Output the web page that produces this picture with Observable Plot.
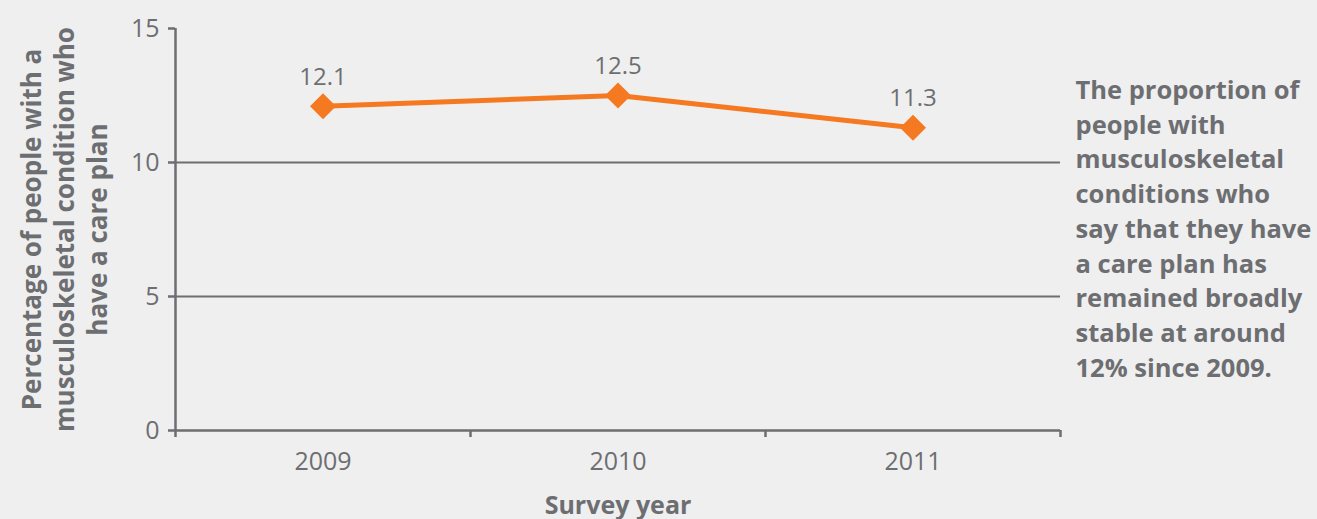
<!DOCTYPE html>
<html>
<head>
<meta charset="utf-8">
<script src="https://cdn.jsdelivr.net/npm/d3@7"></script>
<script src="https://cdn.jsdelivr.net/npm/@observablehq/plot@0.6"></script>
<style>
  html, body { margin: 0; padding: 0; background: #efefef; }
  #chart { position: relative; width: 1317px; height: 519px; }
  svg { font-family: "Open Sans", sans-serif; }
</style>
</head>
<body>
<div id="chart"></div>
<script>
const years = [2009, 2010, 2011];
const values = [12.1, 12.5, 11.3];
const yTicks = [0, 5, 10, 15];
const gridValues = [5, 10];
const yLabel = "Percentage of people with a\nmusculoskeletal condition who\nhave a care plan";
const xLabel = "Survey year";
const note = "The proportion of\npeople with\nmusculoskeletal\nconditions who\nsay that they have\na care plan has\nremained broadly\nstable at around\n12% since 2009.";

const data = years.map((y, i) => ({year: y, value: values[i]}));
const boundaries = [years[0] - 0.5, ...years.map(y => y + 0.5)];

const grey = "#6d6e71";
const orange = "#f47920";

const plot = Plot.plot({
  width: 1317,
  height: 519,
  marginLeft: 175,
  marginRight: 257,
  marginTop: 28,
  marginBottom: 89,
  style: {background: "#efefef", color: grey, fontSize: "24px", fontFamily: "Open Sans, sans-serif"},
  x: {domain: [boundaries[0], boundaries[boundaries.length - 1]], axis: null},
  y: {domain: [0, 15], axis: null},
  marks: [
    Plot.ruleY(gridValues, {x1: boundaries[0], x2: boundaries[boundaries.length - 1], stroke: grey, strokeWidth: 2.2}),
    Plot.ruleY([0], {x1: boundaries[0], x2: boundaries[boundaries.length - 1], stroke: grey, strokeWidth: 2.5}),
    Plot.ruleX([boundaries[0]], {y1: 0, y2: 15, stroke: grey, strokeWidth: 2.5}),
    Plot.axisY({ticks: yTicks, tickSize: 7, tickPadding: 9, stroke: grey, strokeWidth: 2.5, fill: grey, fontSize: 25, tickFormat: d => d, label: null}),
    Plot.axisX({ticks: boundaries, tickSize: 7, tickFormat: () => "", stroke: grey, strokeWidth: 2.5, label: null}),
    Plot.axisX({ticks: years, tickSize: 0, tickPadding: 22, tickFormat: d => String(d), fill: grey, fontSize: 25, label: null}),
    Plot.line(data, {x: "year", y: "value", stroke: orange, strokeWidth: 5}),
    Plot.dot(data, {x: "year", y: "value", symbol: "diamond2", r: 11.7, fill: orange, stroke: "none"}),
    Plot.text(data, {x: "year", y: "value", text: d => d.value.toFixed(1), dy: -29, fill: grey, fontSize: 24}),
    Plot.text([yLabel], {frameAnchor: "left", dx: -112, dy: 0, rotate: -90, text: d => d, fill: grey, fontWeight: "bold", fontSize: 26, lineHeight: 1.27, textAnchor: "middle"}),
    Plot.text([xLabel], {frameAnchor: "bottom", dy: 83, text: d => d, fill: grey, fontWeight: "bold", fontSize: 25}),
    Plot.text([note], {frameAnchor: "top-right", dx: 15, dy: 46, text: d => d, fill: grey, fontWeight: "bold", fontSize: 25.5, lineHeight: 1.36, textAnchor: "start", lineAnchor: "top"})
  ]
});
document.getElementById("chart").appendChild(plot);
</script>
</body>
</html>
